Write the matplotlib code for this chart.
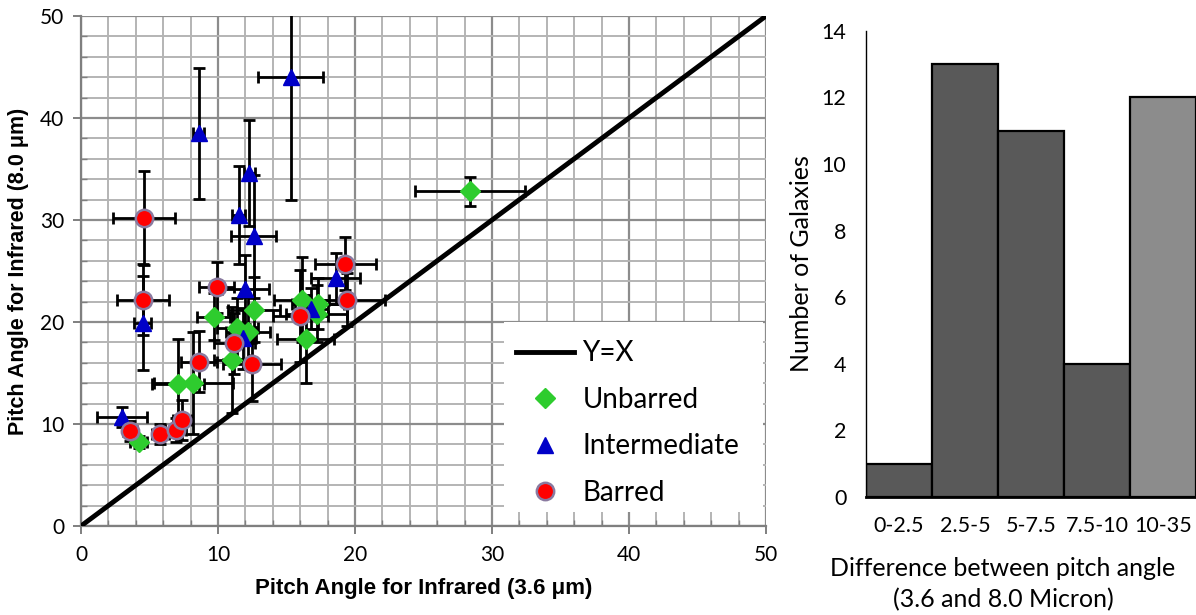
import numpy as np
import matplotlib
matplotlib.use("Agg")
import matplotlib.pyplot as plt
from matplotlib.ticker import MultipleLocator
from matplotlib.lines import Line2D
from matplotlib.patches import Rectangle

# pitch angles (3.6 um on x, 8.0 um on y)
unb_x = [28.4, 4.2, 7.1, 8.2, 9.7, 11.4, 12.2, 12.6, 11.0, 16.1, 16.4, 17.3, 17.2]
unb_y = [32.8, 8.2, 13.9, 14.0, 20.5, 19.4, 19.0, 21.2, 16.3, 22.2, 18.3, 21.8, 20.8]
unb_xerr = [4.0, 0.6, 1.9, 2.9, 1.2, 1.5, 1.6, 1.9, 1.3, 2.0, 2.1, 1.9, 2.2]
unb_yerr = [1.4, 0.6, 4.4, 5.0, 2.3, 3.0, 3.5, 3.2, 5.2, 4.2, 4.3, 2.5, 2.8]

int_x = [8.6, 15.3, 11.5, 12.3, 12.6, 4.5, 3.0, 12.0, 11.8, 16.8, 18.6]
int_y = [38.5, 44.0, 30.5, 34.6, 28.4, 19.9, 10.7, 23.2, 18.4, 21.3, 24.3]
int_xerr = [0.4, 2.4, 0.5, 0.4, 1.65, 0.6, 1.85, 1.7, 1.0, 1.2, 1.8]
int_yerr = [6.4, 12.0, 4.8, 5.2, 6.0, 4.6, 1.0, 3.4, 3.0, 2.0, 2.5]

bar_x = [4.6, 4.5, 9.9, 8.6, 12.5, 11.2, 3.6, 5.8, 6.9, 7.4, 16.0, 19.4, 19.3]
bar_y = [30.2, 22.2, 23.4, 16.1, 15.9, 17.9, 9.3, 9.0, 9.4, 10.4, 20.6, 22.2, 25.7]
bar_xerr = [2.25, 1.9, 1.3, 1.3, 2.1, 1.5, 0.5, 0.6, 0.8, 0.7, 2.0, 2.8, 2.2]
bar_yerr = [4.6, 3.5, 2.5, 3.0, 3.6, 3.0, 1.0, 1.0, 1.2, 2.0, 4.5, 2.6, 2.6]

diag = [0, 50]

# histogram of the difference
bins = ["0-2.5", "2.5-5", "5-7.5", "7.5-10", "10-35"]
counts = [1, 13, 11, 4, 12]
bin_colors = ["#595959", "#595959", "#595959", "#595959", "#8c8c8c"]

calib = ["Lato", "DejaVu Sans"]
arial = ["Liberation Sans", "DejaVu Sans"]

fig = plt.figure(figsize=(11.96, 6.15), dpi=100)

#############################################################################
# scatter
ax = fig.add_axes([0.0677, 0.1447, 0.5728, 0.8293])
ax.set_xlim(0, 50)
ax.set_ylim(0, 50)
ax.set_axisbelow(True)
ax.xaxis.set_major_locator(MultipleLocator(10))
ax.yaxis.set_major_locator(MultipleLocator(10))
ax.xaxis.set_minor_locator(MultipleLocator(2))
ax.yaxis.set_minor_locator(MultipleLocator(2))
ax.grid(which="minor", color="#b4b4b4", lw=1.4)
ax.grid(which="major", color="#8c8c8c", lw=1.6)
for s in ["top", "right"]:
    ax.spines[s].set_visible(False)
for s in ["left", "bottom"]:
    ax.spines[s].set_color("#7f7f7f")
    ax.spines[s].set_linewidth(1.6)
ax.tick_params(which="major", length=6, color="#7f7f7f", width=1.4,
               labelsize=15, labelfontfamily="Lato")
ax.tick_params(axis="x", which="major", pad=8)
ax.tick_params(axis="y", which="major", pad=6)
ax.tick_params(which="minor", length=4, direction="in", color="#7f7f7f", width=1.0)

ax.plot(diag, diag, color="black", lw=3.5, zorder=3)

eb = dict(fmt="none", ecolor="black", elinewidth=2, capsize=4.5, capthick=2, zorder=4)
ax.errorbar(unb_x, unb_y, xerr=unb_xerr, yerr=unb_yerr, **eb)
ax.errorbar(int_x, int_y, xerr=int_xerr, yerr=int_yerr, **eb)
ax.errorbar(bar_x, bar_y, xerr=bar_xerr, yerr=bar_yerr, **eb)

ax.plot(unb_x, unb_y, "D", ms=10, color="#2ecc2e", mec="#2ecc2e", zorder=5)
ax.plot(int_x, int_y, "^", ms=12, color="#0000c8", mec="#0000c8", zorder=5)
ax.plot(bar_x, bar_y, "o", ms=12.5, color="#ff0000", mec="#8a7aa0", mew=1.8, zorder=5)

ax.set_xlabel("Pitch Angle for Infrared (3.6 \u03bcm)", family=arial,
              fontweight="bold", fontsize=16, labelpad=9)
ax.set_ylabel("Pitch Angle for Infrared (8.0 \u03bcm)", family=arial,
              fontweight="bold", fontsize=15.5, labelpad=8)

# white legend panel covering the grid
ax.add_patch(Rectangle((0.6175, 0.028), 0.378, 0.372, transform=ax.transAxes,
                       facecolor="white", edgecolor="none", zorder=2))
handles = [
    Line2D([], [], color="black", lw=3.5),
    Line2D([], [], ls="none", marker="D", ms=10, color="#2ecc2e"),
    Line2D([], [], ls="none", marker="^", ms=12, color="#0000c8"),
    Line2D([], [], ls="none", marker="o", ms=12.5, color="#ff0000", mec="#8a7aa0", mew=1.8),
]
leg = ax.legend(handles, ["Y=X", "Unbarred", "Intermediate", "Barred"],
                loc="upper left", bbox_to_anchor=(0.598, 0.413), frameon=False,
                handlelength=2.1, handletextpad=0.3, labelspacing=0.74,
                prop={"family": calib, "size": 20})
leg.set_zorder(6)

#############################################################################
# histogram
hx = fig.add_axes([0.724, 0.192, 0.276, 0.758])
pos = np.arange(len(bins))
hx.bar(pos, counts, width=1.0, color=bin_colors, edgecolor="black", lw=1.6)
hx.set_xlim(-0.5, len(bins) - 0.5)
hx.set_ylim(0, 14)
hx.set_yticks(range(0, 15, 2))
hx.set_xticks(pos)
hx.set_xticklabels(bins)
for s in ["top", "right"]:
    hx.spines[s].set_visible(False)
hx.spines["left"].set_linewidth(1.0)
hx.spines["bottom"].set_linewidth(2.0)
hx.tick_params(axis="both", length=0, labelsize=15.5, labelfontfamily="Lato")
hx.tick_params(axis="x", pad=14)
hx.tick_params(axis="y", pad=14)
hx.set_ylabel("Number of Galaxies", family=calib, fontsize=18, labelpad=6)
hx.set_xlabel("Difference between pitch angle\n(3.6 and 8.0 Micron)", family=calib,
              fontsize=18, linespacing=1.45, va="top")
hx.xaxis.set_label_coords(0.415, -0.128)

fig.savefig("out.png", dpi=100)
